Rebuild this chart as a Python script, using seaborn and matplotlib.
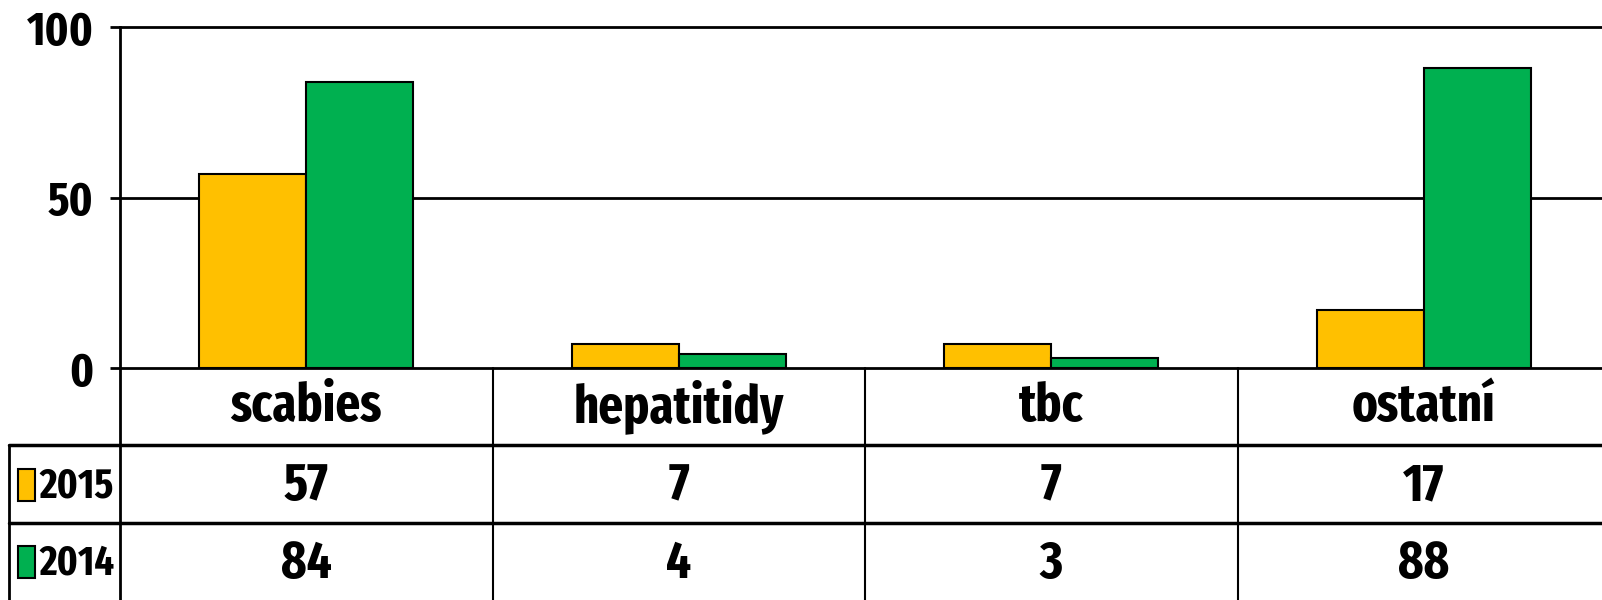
import matplotlib
matplotlib.use("Agg")
import matplotlib.pyplot as plt
from matplotlib.patches import Rectangle
import seaborn as sns
import pandas as pd

categories = ["scabies", "hepatitidy", "tbc", "ostatní"]
series_names = ["2015", "2014"]
values_2015 = [57, 7, 7, 17]
values_2014 = [84, 4, 3, 88]
y_ticks = [0, 50, 100]
colors = ["#FFC000", "#00B050"]

sns.set_theme(style="white")
plt.rcParams["font.family"] = ["Fira Sans Extra Condensed", "Roboto Condensed", "DejaVu Sans"]
plt.rcParams["font.weight"] = "bold"
plt.rcParams["text.color"] = "black"
plt.rcParams["ytick.color"] = "black"

df = pd.DataFrame({
    "cat": categories * 2,
    "year": [series_names[0]] * 4 + [series_names[1]] * 4,
    "val": values_2015 + values_2014,
})

W, H = 1602, 600
fig = plt.figure(figsize=(W / 100, H / 100), dpi=100)
left_px, zero_px, top_px, cat_w = 120, 368, 27, 372.5
ax = fig.add_axes([left_px / W, (H - zero_px) / H, 4 * cat_w / W, (zero_px - top_px) / H])

sns.barplot(data=df, x="cat", y="val", hue="year", hue_order=series_names,
            palette=colors, width=0.575, gap=0, edgecolor="black", linewidth=1.5,
            saturation=1, legend=False, ax=ax, zorder=3)
ax.set_xlim(-0.5, 3.5)
ax.set_ylim(0, 100)
ax.set_yticks(y_ticks)
ax.set_yticklabels([str(t) for t in y_ticks], fontsize=34, fontweight="bold", color="black")
ax.set_xticks([])
ax.set_xlabel("")
ax.set_ylabel("")
for t in [50, 100]:
    ax.axhline(t, color="black", lw=2, zorder=1, clip_on=False)
for s in ["top", "right"]:
    ax.spines[s].set_visible(False)
for s in ["left", "bottom"]:
    ax.spines[s].set_color("black")
    ax.spines[s].set_linewidth(2)
ax.spines["bottom"].set_zorder(5)
ax.tick_params(axis="y", direction="out", length=7, width=2, color="black", pad=12, left=True)

# data table
tax = fig.add_axes([left_px / W, 0, 4 * cat_w / W, (H - zero_px) / H])
tax.axis("off")
tax.set_autoscale_on(False)
tax.set_xlim(-0.5, 3.5)
tax.set_ylim(3, 0)
x_left = -0.5 - (left_px - 9) / cat_w
tax.plot([-0.5, -0.5], [0, 3], color="black", lw=2, clip_on=False)
for b in [0.5, 1.5, 2.5]:
    tax.plot([b, b], [0, 3], color="black", lw=1.5, clip_on=False)
for r in [1, 2]:
    tax.plot([x_left, 3.5], [r, r], color="black", lw=2.5, clip_on=False)
tax.plot([x_left, x_left], [1, 3], color="black", lw=2, clip_on=False)

for i, c in enumerate(categories):
    tax.text(i, 0.5, c, ha="center", va="center", fontsize=38, fontweight="bold", color="black")
for row, (name, vals, col) in enumerate(zip(series_names, [values_2015, values_2014], colors), start=1):
    for i, v in enumerate(vals):
        tax.text(i, row + 0.53, str(v), ha="center", va="center", fontsize=38,
                 fontweight="bold", color="black")
    mx0 = -0.5 - (left_px - 18) / cat_w
    mw = 17 / cat_w
    tax.add_patch(Rectangle((mx0, row + 0.3), mw, 0.42, facecolor=col, edgecolor="black",
                            lw=1.5, clip_on=False))
    tax.text(-0.5 - (left_px - 39) / cat_w, row + 0.53, name, ha="left", va="center",
             fontsize=30, fontweight="bold", color="black", clip_on=False)

fig.savefig("out.png", dpi=100)
